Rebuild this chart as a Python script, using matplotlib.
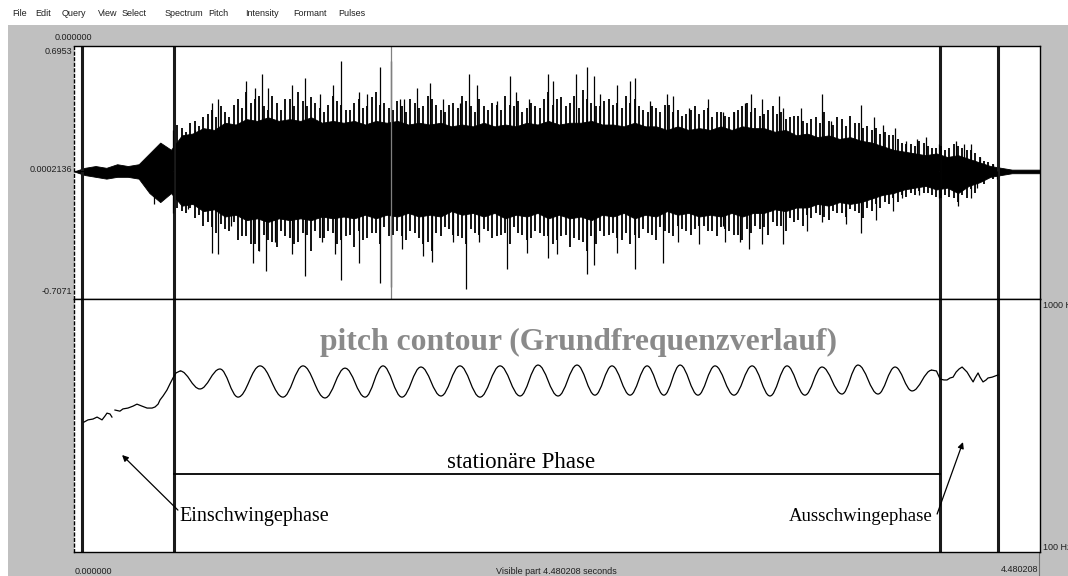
import numpy as np
import matplotlib
matplotlib.use("Agg")
import matplotlib.pyplot as plt
from matplotlib.path import Path
from matplotlib.patches import PathPatch

W, H = 1068, 576
DURATION = 4.480208
AMP_TOP, AMP_MID, AMP_BOT = 0.6953, 0.0002136, -0.7071
F_LOW, F_HIGH = 100, 1000

# waveform: solid core, one value every 50 ms (last point at the end of the sound)
core_t = np.append(np.round(np.arange(90) * 0.05, 2), DURATION)
core_upper = [0.00, 0.02, 0.03, 0.02, 0.04, 0.03, 0.04, 0.10, 0.16, 0.12,
              0.20, 0.21, 0.24, 0.23, 0.27, 0.26, 0.29, 0.28, 0.30, 0.28,
              0.29, 0.28, 0.30, 0.27, 0.28, 0.27, 0.28, 0.26, 0.28, 0.27,
              0.28, 0.26, 0.27, 0.26, 0.27, 0.25, 0.26, 0.25, 0.27, 0.25,
              0.26, 0.25, 0.27, 0.26, 0.28, 0.26, 0.27, 0.27, 0.28, 0.26,
              0.26, 0.25, 0.27, 0.25, 0.25, 0.23, 0.25, 0.23, 0.24, 0.23,
              0.25, 0.23, 0.25, 0.24, 0.24, 0.22, 0.23, 0.20, 0.21, 0.19,
              0.20, 0.18, 0.19, 0.17, 0.16, 0.14, 0.12, 0.11, 0.10, 0.09,
              0.10, 0.08, 0.09, 0.07, 0.05, 0.03, 0.02, 0.01, 0.01, 0.01,
              0.01]
core_lower = [0.00, -0.02, -0.03, -0.04, -0.03, -0.03, -0.04, -0.12, -0.17, -0.12,
              -0.19, -0.18, -0.22, -0.21, -0.25, -0.24, -0.27, -0.26, -0.28, -0.26,
              -0.27, -0.26, -0.27, -0.25, -0.26, -0.25, -0.26, -0.24, -0.26, -0.24,
              -0.25, -0.23, -0.25, -0.24, -0.25, -0.22, -0.24, -0.23, -0.25, -0.23,
              -0.26, -0.24, -0.25, -0.23, -0.26, -0.24, -0.26, -0.25, -0.27, -0.24,
              -0.25, -0.23, -0.26, -0.24, -0.25, -0.22, -0.24, -0.23, -0.25, -0.24,
              -0.25, -0.23, -0.25, -0.23, -0.23, -0.21, -0.22, -0.20, -0.20, -0.18,
              -0.19, -0.17, -0.18, -0.17, -0.15, -0.13, -0.12, -0.10, -0.09, -0.08,
              -0.10, -0.09, -0.12, -0.08, -0.06, -0.03, -0.02, -0.01, -0.01, -0.01,
              -0.01]

# dense fringe of periods just outside the core, two interleaved rows every 40 ms
fringe_up = [0.26, 0.22, 0.28, 0.30, 0.34, 0.36, 0.30, 0.40, 0.44, 0.40,
             0.36, 0.42, 0.34, 0.40, 0.44, 0.36, 0.38, 0.33, 0.42, 0.37,
             0.34, 0.40, 0.36, 0.44, 0.38, 0.34, 0.36, 0.40, 0.35, 0.42,
             0.37, 0.33, 0.38, 0.42, 0.36, 0.40, 0.34, 0.37, 0.42, 0.36,
             0.33, 0.38, 0.35, 0.44, 0.40, 0.36, 0.42, 0.45, 0.38, 0.36,
             0.40, 0.38, 0.42, 0.40, 0.34, 0.36, 0.33, 0.37, 0.34, 0.32,
             0.36, 0.34, 0.30, 0.33, 0.30, 0.34, 0.38, 0.35, 0.32, 0.36,
             0.33, 0.30, 0.31, 0.27, 0.30, 0.33, 0.26, 0.29, 0.31, 0.27,
             0.25, 0.24, 0.22, 0.20, 0.16, 0.15, 0.17, 0.14, 0.13, 0.12,
             0.15, 0.13, 0.12, 0.08, 0.05]
fringe_up2 = [0.24, 0.27, 0.25, 0.32, 0.30, 0.33, 0.37, 0.35, 0.38, 0.42,
              0.34, 0.38, 0.40, 0.36, 0.39, 0.41, 0.35, 0.37, 0.39, 0.34,
              0.38, 0.35, 0.41, 0.37, 0.35, 0.39, 0.33, 0.38, 0.36, 0.40,
              0.34, 0.37, 0.35, 0.39, 0.33, 0.36, 0.38, 0.34, 0.37, 0.39,
              0.35, 0.36, 0.40, 0.37, 0.41, 0.38, 0.35, 0.40, 0.36, 0.39,
              0.37, 0.35, 0.38, 0.36, 0.33, 0.35, 0.37, 0.33, 0.31, 0.34,
              0.32, 0.35, 0.33, 0.31, 0.33, 0.36, 0.33, 0.31, 0.34, 0.32,
              0.29, 0.31, 0.28, 0.29, 0.27, 0.28, 0.30, 0.25, 0.27, 0.24,
              0.23, 0.21, 0.20, 0.18, 0.15, 0.14, 0.16, 0.13, 0.14, 0.13,
              0.14, 0.12, 0.10, 0.06, 0.04]
fringe_dn = [-0.22, -0.20, -0.24, -0.28, -0.34, -0.32, -0.28, -0.36, -0.40, -0.44,
             -0.38, -0.42, -0.36, -0.40, -0.34, -0.44, -0.37, -0.33, -0.40, -0.36,
             -0.42, -0.38, -0.34, -0.40, -0.36, -0.33, -0.38, -0.34, -0.40, -0.44,
             -0.36, -0.32, -0.36, -0.40, -0.34, -0.32, -0.37, -0.35, -0.40, -0.34,
             -0.38, -0.33, -0.36, -0.40, -0.36, -0.42, -0.38, -0.44, -0.40, -0.36,
             -0.34, -0.38, -0.40, -0.37, -0.34, -0.38, -0.33, -0.36, -0.32, -0.35,
             -0.30, -0.33, -0.36, -0.32, -0.35, -0.38, -0.34, -0.32, -0.35, -0.30,
             -0.33, -0.28, -0.30, -0.26, -0.24, -0.27, -0.23, -0.25, -0.22, -0.26,
             -0.22, -0.20, -0.18, -0.17, -0.14, -0.13, -0.12, -0.13, -0.15, -0.14,
             -0.17, -0.15, -0.12, -0.07, -0.04]
fringe_dn2 = [-0.20, -0.23, -0.26, -0.30, -0.31, -0.29, -0.33, -0.38, -0.36, -0.40,
              -0.35, -0.39, -0.33, -0.37, -0.39, -0.35, -0.33, -0.37, -0.34, -0.38,
              -0.35, -0.33, -0.37, -0.34, -0.31, -0.35, -0.36, -0.33, -0.37, -0.39,
              -0.34, -0.31, -0.35, -0.37, -0.32, -0.35, -0.33, -0.36, -0.34, -0.31,
              -0.35, -0.37, -0.34, -0.36, -0.38, -0.35, -0.37, -0.39, -0.36, -0.33,
              -0.35, -0.37, -0.34, -0.35, -0.32, -0.35, -0.31, -0.34, -0.30, -0.33,
              -0.32, -0.30, -0.33, -0.31, -0.33, -0.35, -0.32, -0.30, -0.31, -0.28,
              -0.30, -0.26, -0.27, -0.24, -0.23, -0.25, -0.22, -0.23, -0.21, -0.23,
              -0.20, -0.18, -0.17, -0.15, -0.13, -0.12, -0.11, -0.12, -0.14, -0.13,
              -0.15, -0.13, -0.10, -0.06, -0.03]

# single tall peaks
spike_up_t = [0.46, 0.51, 0.56, 0.64, 0.67, 0.80, 0.84, 0.87, 0.90, 1.01, 1.07, 1.14,
              1.20, 1.24, 1.32, 1.36, 1.42, 1.47, 1.51, 1.53, 1.59, 1.65, 1.71, 1.79,
              1.83, 1.87, 1.96, 2.02, 2.05, 2.11, 2.20, 2.22, 2.33, 2.38, 2.41, 2.44,
              2.52, 2.58, 2.60, 2.67, 2.75, 2.78, 2.85, 2.94, 3.01, 3.06, 3.11, 3.14,
              3.19, 3.27, 3.29, 3.37, 3.47, 3.51, 3.65, 3.71, 3.75, 3.81, 3.86, 3.91,
              3.95, 4.01, 4.09, 4.13, 4.16, 4.20, 4.26]
spike_up_a = [0.23, 0.18, 0.23, 0.38, 0.40, 0.50, 0.46, 0.54, 0.46, 0.48, 0.52, 0.43,
              0.48, 0.61, 0.44, 0.43, 0.58, 0.61, 0.40, 0.40, 0.46, 0.49, 0.40, 0.38,
              0.54, 0.48, 0.39, 0.53, 0.44, 0.40, 0.54, 0.50, 0.54, 0.58, 0.53, 0.43,
              0.48, 0.50, 0.52, 0.39, 0.43, 0.42, 0.35, 0.40, 0.33, 0.33, 0.38, 0.43,
              0.40, 0.42, 0.35, 0.35, 0.43, 0.28, 0.37, 0.30, 0.26, 0.24, 0.17, 0.18,
              0.19, 0.15, 0.17, 0.15, 0.15, 0.08, 0.04]
spike_dn_t = [0.37, 0.46, 0.53, 0.64, 0.67, 0.73, 0.83, 0.86, 0.89, 0.93, 1.01, 1.07,
              1.15, 1.21, 1.24, 1.32, 1.42, 1.47, 1.52, 1.62, 1.66, 1.76, 1.82, 1.88,
              2.01, 2.10, 2.20, 2.24, 2.38, 2.41, 2.52, 2.60, 2.73, 2.80, 2.90, 3.01,
              3.02, 3.09, 3.13, 3.19, 3.29, 3.40, 3.47, 3.58, 3.65, 3.72, 3.80, 3.84,
              3.92, 4.01, 4.10, 4.16, 4.19, 4.28]
spike_dn_a = [-0.18, -0.23, -0.21, -0.45, -0.46, -0.30, -0.51, -0.44, -0.55, -0.39, -0.46, -0.58,
              -0.39, -0.46, -0.60, -0.51, -0.62, -0.64, -0.43, -0.47, -0.50, -0.39, -0.65, -0.39,
              -0.54, -0.45, -0.48, -0.46, -0.57, -0.52, -0.45, -0.54, -0.51, -0.39, -0.40, -0.30,
              -0.39, -0.39, -0.43, -0.40, -0.40, -0.33, -0.28, -0.29, -0.34, -0.27, -0.22, -0.15,
              -0.13, -0.15, -0.19, -0.15, -0.09, -0.04]

# pitch: attack (ragged), vibrato extrema (stationary phase), release
onset_t = [0.046, 0.065, 0.088, 0.107, 0.130, 0.144, 0.153, 0.167, 0.176, np.nan,
           0.190, 0.213, 0.227, 0.250, 0.274, 0.292, 0.315, 0.339, 0.362, 0.376,
           0.390, 0.399, 0.413, 0.431, 0.445, 0.459, 0.473, 0.492]
onset_f = [562, 570, 573, 580, 570, 584, 594, 591, 580, np.nan,
           605, 601, 609, 612, 619, 626, 619, 612, 612, 616,
           626, 641, 655, 676, 698, 719, 737, 744]
vib_t = [0.492, 0.584, 0.677, 0.761, 0.863, 0.969, 1.062, 1.164, 1.257, 1.350,
         1.433, 1.521, 1.609, 1.702, 1.790, 1.883, 1.976, 2.069, 2.152, 2.245,
         2.333, 2.416, 2.495, 2.579, 2.658, 2.736, 2.811, 2.894, 2.973, 3.061,
         3.145, 3.228, 3.307, 3.390, 3.469, 3.562, 3.636, 3.729, 3.808, 3.887,
         3.979]
vib_f = [744, 680, 751, 651, 762, 651, 762, 648, 754, 651,
         762, 651, 758, 655, 762, 651, 762, 655, 765, 655,
         765, 658, 762, 658, 762, 658, 765, 658, 762, 658,
         762, 655, 762, 658, 758, 662, 765, 662, 758, 673,
         747]
release_t = [3.979, 4.000, 4.017, 4.035, 4.049, 4.063, 4.077, 4.091, 4.105, 4.119,
             4.133, 4.142, 4.156, 4.170, 4.179, 4.193, 4.202, 4.216, 4.230, 4.239,
             4.258, 4.272, 4.286]
release_f = [747, 744, 715, 712, 712, 719, 722, 740, 751, 758,
             747, 740, 722, 705, 719, 737, 722, 705, 712, 719,
             722, 726, 730]

boundaries = [0.037, 0.464, 4.017, 4.286]
cursor_t = 1.470

menu_items = ["File", "Edit", "Query", "View", "Select", "Spectrum",
              "Pitch", "Intensity", "Formant", "Pulses"]
menu_x = [12, 35, 62, 98, 122, 165, 208, 245, 293, 338]


def px(x, y):
    return x / W, 1 - y / H


def smooth_path(ts, fs):
    # cubic segments with flat tangents at each extremum
    verts = [(ts[0], fs[0])]
    codes = [Path.MOVETO]
    for i in range(len(ts) - 1):
        h = 0.38 * (ts[i + 1] - ts[i])
        verts += [(ts[i] + h, fs[i]), (ts[i + 1] - h, fs[i + 1]), (ts[i + 1], fs[i + 1])]
        codes += [Path.CURVE4] * 3
    return Path(verts, codes)


fig = plt.figure(figsize=(W / 100, H / 100), dpi=100, facecolor="white")
gray = "#c0c0c0"
bg = fig.add_axes([8 / W, 0, 1 - 8 / W, 1 - 25 / H])
bg.set_facecolor(gray)
bg.set_xticks([]); bg.set_yticks([])
for s in bg.spines.values():
    s.set_visible(False)
bg.axvline((1039 - 8) / (W - 8), ymin=0, ymax=24 / 551, color="#707070", lw=0.8)

ui = dict(family="Liberation Sans", fontsize=6.5, color="#202020")
for name, x in zip(menu_items, menu_x):
    fig.text(*px(x, 13), name, ha="left", va="center", **ui)

ax1 = fig.add_axes([*px(74, 299), 966 / W, 253 / H])
ax2 = fig.add_axes([*px(74, 552), 966 / W, 253 / H])
for ax in (ax1, ax2):
    ax.set_xlim(0, DURATION)
    ax.set_xticks([]); ax.set_yticks([])
    ax.set_facecolor("white")
    for s in ax.spines.values():
        s.set_linewidth(1.0)
    ax.spines["left"].set_linestyle((0, (2, 2)))
    for b in boundaries:
        ax.axvline(b, color="#1a1a1a", lw=2.2)

# waveform
ax1.set_ylim(AMP_BOT, AMP_TOP)
ax1.fill_between(core_t, core_lower, core_upper, color="black", lw=0.6)
fringe_t = np.round(0.48 + 0.04 * np.arange(len(fringe_up)), 2)
ax1.vlines(fringe_t, 0, fringe_up, color="black", lw=1.3)
ax1.vlines(fringe_t + 0.02, 0, fringe_up2, color="black", lw=1.3)
ax1.vlines(fringe_t + 0.02, 0, fringe_dn, color="black", lw=1.3)
ax1.vlines(fringe_t, 0, fringe_dn2, color="black", lw=1.3)
ax1.vlines(spike_up_t, 0, spike_up_a, color="black", lw=0.9)
ax1.vlines(spike_dn_t, 0, spike_dn_a, color="black", lw=0.9)
ax1.plot([0, 0.04], [0, 0], color="black", lw=0.8)
ax1.axvline(cursor_t, color="#808080", lw=0.9)

# pitch contour
ax2.set_ylim(F_LOW, F_HIGH)
ax2.plot(onset_t, onset_f, color="black", lw=0.9)
ax2.add_patch(PathPatch(smooth_path(vib_t, vib_f), fill=False, ec="black", lw=0.9))
ax2.plot(release_t, release_f, color="black", lw=0.9)

serif = "Liberation Serif"
ax2.text(2.342, 847, "pitch contour (Grundfrequenzverlauf)", ha="center", va="center",
         family=serif, fontsize=22.8, fontweight="bold", color="#8a8a8a")
ax2.plot([boundaries[1], boundaries[2]], [377, 377], color="black", lw=1.3)
ax2.text(2.073, 417, "stationäre Phase", ha="center", va="center", family=serif, fontsize=16.5)
ax2.text(0.49, 226, "Einschwingephase", ha="left", va="center", family=serif, fontsize=14.5)
ax2.text(3.98, 226, "Ausschwingephase", ha="right", va="center", family=serif, fontsize=13.5)
arrow = dict(arrowstyle="-|>", color="black", lw=0.9, mutation_scale=9, shrinkA=0, shrinkB=0)
ax2.annotate("", xy=(0.223, 445), xytext=(0.482, 249), arrowprops=arrow)
ax2.annotate("", xy=(4.123, 491), xytext=(4.003, 235), arrowprops=arrow)

# axis labels around the panels
fig.text(*px(73, 37), "0.000000", ha="center", va="center", **ui)
fig.text(*px(72, 51), "0.6953", ha="right", va="center", **ui)
fig.text(*px(72, 170), "0.0002136", ha="right", va="center", **ui)
fig.text(*px(72, 292), "-0.7071", ha="right", va="center", **ui)
fig.text(*px(1043, 305), "1000 Hz", ha="left", va="center", **ui)
fig.text(*px(1043, 548), "100 Hz", ha="left", va="center", **ui)
fig.text(*px(75, 572), "0.000000", ha="left", va="center", **ui)
fig.text(*px(1038, 570), "4.480208", ha="right", va="center", **ui)
fig.text(*px(556, 572), "Visible part 4.480208 seconds", ha="center", va="center", **ui)

fig.savefig("out.png", dpi=100, facecolor=fig.get_facecolor())
